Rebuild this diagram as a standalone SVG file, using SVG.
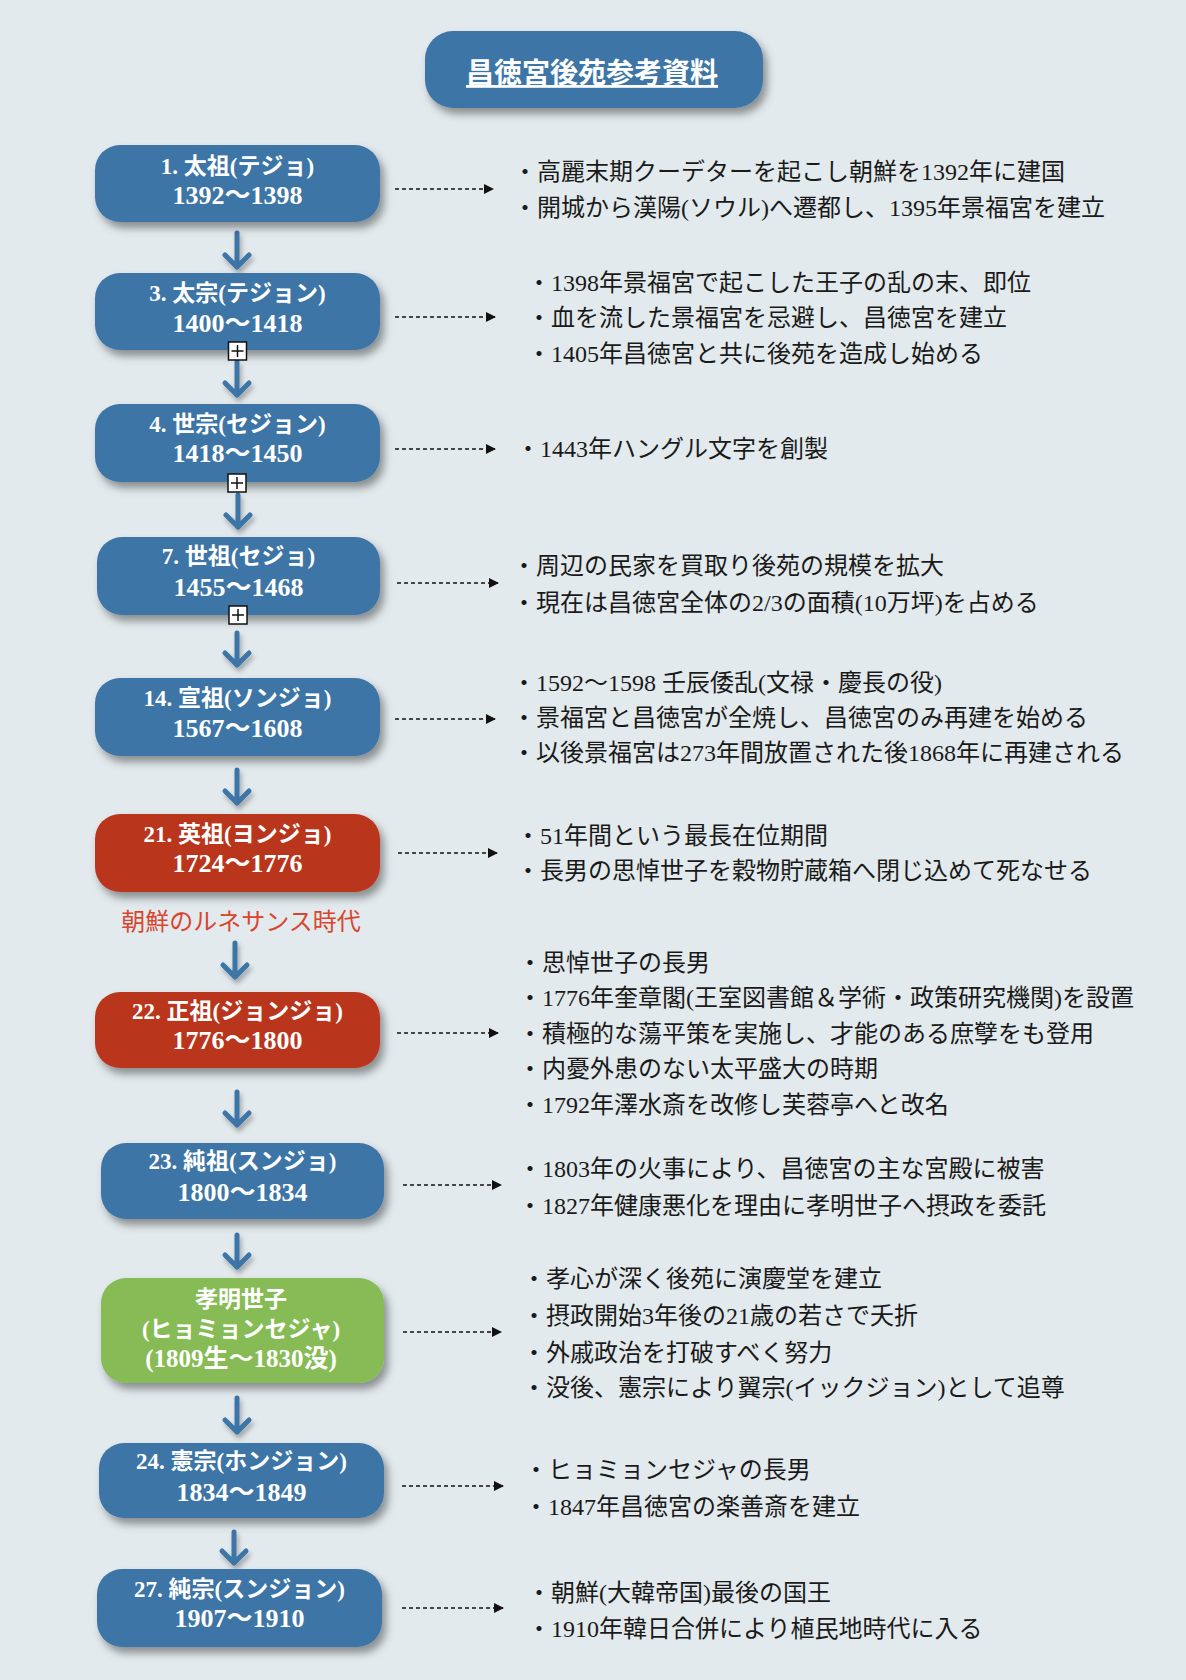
<svg xmlns="http://www.w3.org/2000/svg" width="1186" height="1680" viewBox="0 0 1186 1680">
  <style>
    .bg { fill: #e3eaed; }
    .blue { fill: #3e74a6; }
    .red { fill: #b9361f; }
    .green { fill: #86bb55; }
    .node { filter: url(#shadow); }
    .nt { font-family: "Liberation Serif", "Noto Sans CJK JP", serif; font-weight: bold; font-size: 23px; fill: #ffffff; text-anchor: middle; }
    .dt { font-size: 26px; }
    .dt2 { font-size: 25px; }
    .title { font-family: "Liberation Serif", "Noto Sans CJK JP", serif; font-weight: bold; font-size: 28px; fill: #ffffff; text-anchor: middle; text-decoration: underline; }
    .desc { font-family: "Liberation Serif", "Noto Sans CJK JP", serif; font-size: 24px; fill: #1a1a1a; }
    .era { font-family: "Noto Sans CJK JP", sans-serif; font-size: 24px; fill: #d9452e; text-anchor: middle; }
    .down { fill: none; stroke: #3e74a6; stroke-width: 5; stroke-linecap: round; stroke-linejoin: round; filter: url(#ashadow); }
    .dot { fill: none; stroke: #111111; stroke-width: 1.7; stroke-dasharray: 4 3; marker-end: url(#tri); }
    .plus rect { fill: #ffffff; stroke: #111111; stroke-width: 1.5; }
    .plus path { stroke: #111111; stroke-width: 1.5; fill: none; }
  </style>
  <defs>
    <filter id="shadow" x="-10%" y="-20%" width="125%" height="150%">
      <feDropShadow dx="4" dy="6" stdDeviation="4" flood-color="#000000" flood-opacity="0.4"/>
    </filter>
    <filter id="ashadow" x="-50%" y="-30%" width="200%" height="180%">
      <feDropShadow dx="2" dy="4" stdDeviation="2.5" flood-color="#000000" flood-opacity="0.3"/>
    </filter>
    <marker id="tri" viewBox="0 0 10 10" refX="9" refY="5" markerWidth="10" markerHeight="10" markerUnits="userSpaceOnUse" orient="auto">
      <path d="M0,0 L10,5 L0,10 Z" fill="#111111"/>
    </marker>
  </defs>

  <rect class="bg" x="0" y="0" width="1186" height="1680"/>

  <g id="title">
    <rect class="blue node" x="425" y="31" width="338" height="77" rx="28"/>
    <text class="title" x="592" y="83">昌徳宮後苑参考資料</text>
  </g>

  <g id="connectors">
    <path class="down" d="M237,233 V267 M225,255 L237,267 L249,255"/>
    <path class="down" d="M237,362 V395 M225,383 L237,395 L249,383"/>
    <path class="down" d="M238,495 V527 M226,515 L238,527 L250,515"/>
    <path class="down" d="M237,633 V665 M225,653 L237,665 L249,653"/>
    <path class="down" d="M237,770 V803 M225,791 L237,803 L249,791"/>
    <path class="down" d="M235,943 V977 M223,965 L235,977 L247,965"/>
    <path class="down" d="M237,1092 V1125 M225,1113 L237,1125 L249,1113"/>
    <path class="down" d="M237,1235 V1267 M225,1255 L237,1267 L249,1255"/>
    <path class="down" d="M237,1398 V1432 M225,1420 L237,1432 L249,1420"/>
    <path class="down" d="M234,1532 V1563 M222,1551 L234,1563 L246,1551"/>

    <line class="dot" x1="395" y1="189" x2="493" y2="189"/>
    <line class="dot" x1="395" y1="317" x2="495" y2="317"/>
    <line class="dot" x1="395" y1="449" x2="495" y2="449"/>
    <line class="dot" x1="397" y1="583" x2="498" y2="583"/>
    <line class="dot" x1="395" y1="719" x2="495" y2="719"/>
    <line class="dot" x1="398" y1="853" x2="497" y2="853"/>
    <line class="dot" x1="397" y1="1033" x2="498" y2="1033"/>
    <line class="dot" x1="403" y1="1185" x2="501" y2="1185"/>
    <line class="dot" x1="403" y1="1332" x2="501" y2="1332"/>
    <line class="dot" x1="402" y1="1486" x2="503" y2="1486"/>
    <line class="dot" x1="402" y1="1608" x2="503" y2="1608"/>
  </g>

  <g id="n1">
    <rect class="blue node" x="95" y="145" width="285" height="77" rx="25"/>
    <text class="nt" x="237.5" y="173.5">1. 太祖(テジョ)</text>
    <text class="nt dt" x="237.5" y="204">1392〜1398</text>
  </g>
  <g id="d1" class="desc">
    <text x="513" y="180">・高麗末期クーデターを起こし朝鮮を1392年に建国</text>
    <text x="513" y="216">・開城から漢陽(ソウル)へ遷都し、1395年景福宮を建立</text>
  </g>

  <g id="n3">
    <rect class="blue node" x="95" y="273" width="285" height="77" rx="25"/>
    <text class="nt" x="237.5" y="301">3. 太宗(テジョン)</text>
    <text class="nt dt" x="237.5" y="331.5">1400〜1418</text>
    <g class="plus"><rect x="228.5" y="342" width="18" height="18"/><path d="M231.5,351 H243.5 M237.5,345 V357"/></g>
  </g>
  <g id="d3" class="desc">
    <text x="527" y="291">・1398年景福宮で起こした王子の乱の末、即位</text>
    <text x="527" y="326">・血を流した景福宮を忌避し、昌徳宮を建立</text>
    <text x="527" y="362">・1405年昌徳宮と共に後苑を造成し始める</text>
  </g>

  <g id="n4">
    <rect class="blue node" x="95" y="404" width="285" height="78" rx="25"/>
    <text class="nt" x="237.5" y="431.5">4. 世宗(セジョン)</text>
    <text class="nt dt" x="237.5" y="462">1418〜1450</text>
    <g class="plus"><rect x="228" y="474" width="18" height="18"/><path d="M231,483 H243 M237,477 V489"/></g>
  </g>
  <g id="d4" class="desc">
    <text x="516" y="457">・1443年ハングル文字を創製</text>
  </g>

  <g id="n7">
    <rect class="blue node" x="97" y="537" width="283" height="78" rx="25"/>
    <text class="nt" x="238.5" y="564">7. 世祖(セジョ)</text>
    <text class="nt dt" x="238.5" y="595.5">1455〜1468</text>
    <g class="plus"><rect x="229" y="606" width="18" height="18"/><path d="M232,615 H244 M238,609 V621"/></g>
  </g>
  <g id="d7" class="desc">
    <text x="512" y="574">・周辺の民家を買取り後苑の規模を拡大</text>
    <text x="512" y="611">・現在は昌徳宮全体の2/3の面積(10万坪)を占める</text>
  </g>

  <g id="n14">
    <rect class="blue node" x="95" y="678" width="285" height="78" rx="25"/>
    <text class="nt" x="237.5" y="706">14. 宣祖(ソンジョ)</text>
    <text class="nt dt" x="237.5" y="737">1567〜1608</text>
  </g>
  <g id="d14" class="desc">
    <text x="512" y="691">・1592〜1598 壬辰倭乱(文禄・慶長の役)</text>
    <text x="512" y="726">・景福宮と昌徳宮が全焼し、昌徳宮のみ再建を始める</text>
    <text x="512" y="761">・以後景福宮は273年間放置された後1868年に再建される</text>
  </g>

  <g id="n21">
    <rect class="red node" x="95" y="814" width="285" height="78" rx="25"/>
    <text class="nt" x="237.5" y="841.5">21. 英祖(ヨンジョ)</text>
    <text class="nt dt" x="237.5" y="872">1724〜1776</text>
  </g>
  <g id="d21" class="desc">
    <text x="516" y="844">・51年間という最長在位期間</text>
    <text x="516" y="879">・長男の思悼世子を穀物貯蔵箱へ閉じ込めて死なせる</text>
  </g>

  <g id="era">
    <text class="era" x="241" y="930">朝鮮のルネサンス時代</text>
  </g>

  <g id="n22">
    <rect class="red node" x="95" y="992" width="285" height="76" rx="25"/>
    <text class="nt" x="237.5" y="1018.5">22. 正祖(ジョンジョ)</text>
    <text class="nt dt" x="237.5" y="1049">1776〜1800</text>
  </g>
  <g id="d22" class="desc">
    <text x="518" y="971">・思悼世子の長男</text>
    <text x="518" y="1006">・1776年奎章閣(王室図書館＆学術・政策研究機関)を設置</text>
    <text x="518" y="1042">・積極的な蕩平策を実施し、才能のある庶孼をも登用</text>
    <text x="518" y="1077">・内憂外患のない太平盛大の時期</text>
    <text x="518" y="1113">・1792年澤水斎を改修し芙蓉亭へと改名</text>
  </g>

  <g id="n23">
    <rect class="blue node" x="101" y="1143" width="283" height="76" rx="25"/>
    <text class="nt" x="242.5" y="1168.5">23. 純祖(スンジョ)</text>
    <text class="nt dt" x="242.5" y="1201">1800〜1834</text>
  </g>
  <g id="d23" class="desc">
    <text x="518" y="1177">・1803年の火事により、昌徳宮の主な宮殿に被害</text>
    <text x="518" y="1214">・1827年健康悪化を理由に孝明世子へ摂政を委託</text>
  </g>

  <g id="nh">
    <rect class="green node" x="101" y="1278" width="283" height="105" rx="25"/>
    <text class="nt" x="241" y="1306.5">孝明世子</text>
    <text class="nt" x="241" y="1336.5">(ヒョミョンセジャ)</text>
    <text class="nt dt2" x="241" y="1367">(1809生〜1830没)</text>
  </g>
  <g id="dh" class="desc">
    <text x="522" y="1287">・孝心が深く後苑に演慶堂を建立</text>
    <text x="522" y="1324">・摂政開始3年後の21歳の若さで夭折</text>
    <text x="522" y="1361">・外戚政治を打破すべく努力</text>
    <text x="522" y="1396">・没後、憲宗により翼宗(イックジョン)として追尊</text>
  </g>

  <g id="n24">
    <rect class="blue node" x="99" y="1443" width="285" height="75" rx="25"/>
    <text class="nt" x="241.5" y="1468.5">24. 憲宗(ホンジョン)</text>
    <text class="nt dt" x="241.5" y="1501">1834〜1849</text>
  </g>
  <g id="d24" class="desc">
    <text x="524" y="1478">・ヒョミョンセジャの長男</text>
    <text x="524" y="1515">・1847年昌徳宮の楽善斎を建立</text>
  </g>

  <g id="n27">
    <rect class="blue node" x="97" y="1569" width="285" height="78" rx="25"/>
    <text class="nt" x="239.5" y="1596.5">27. 純宗(スンジョン)</text>
    <text class="nt dt" x="239.5" y="1627">1907〜1910</text>
  </g>
  <g id="d27" class="desc">
    <text x="527" y="1601">・朝鮮(大韓帝国)最後の国王</text>
    <text x="527" y="1637">・1910年韓日合併により植民地時代に入る</text>
  </g>
</svg>
